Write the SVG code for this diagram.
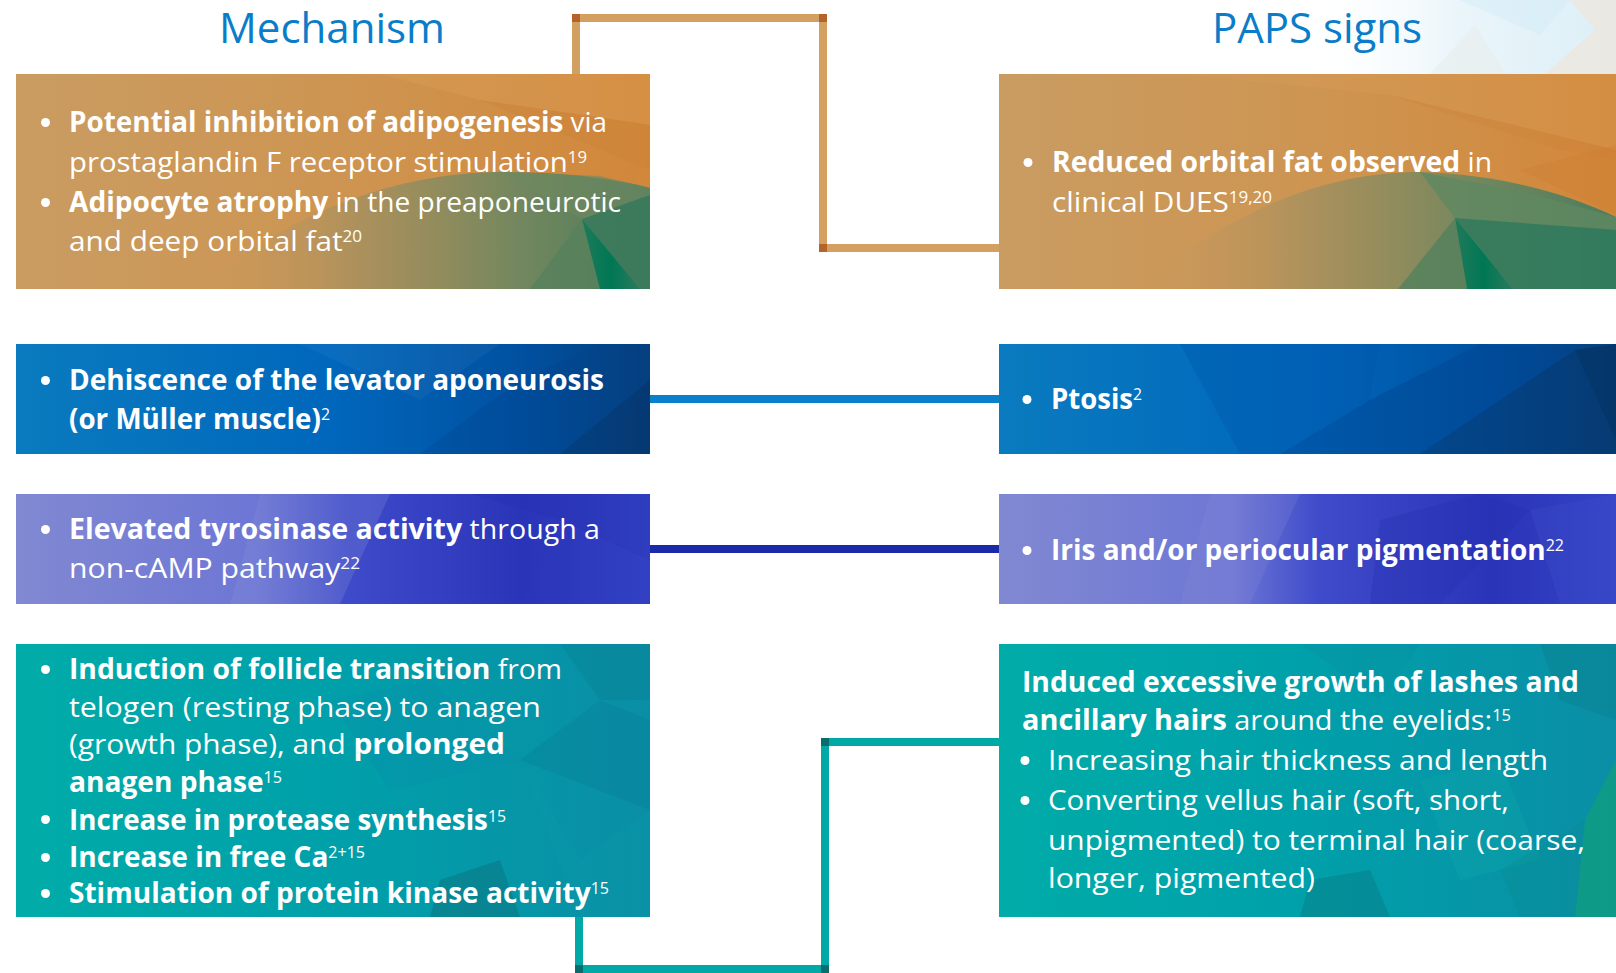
<svg xmlns="http://www.w3.org/2000/svg" width="1616" height="973" viewBox="0 0 1616 973">
<style>
.t{font-family:"Open Sans","Noto Sans",sans-serif;font-size:28px;fill:#fff}
.b{font-weight:700}
.s{font-size:16px;font-weight:400}
.title{font-family:"Open Sans","Noto Sans",sans-serif;font-size:42px;fill:#0a7cc8}
.dot{fill:#fff}
.conn{fill:none;stroke-width:8;stroke-linejoin:miter;stroke-linecap:butt}
</style>
<defs>
<linearGradient id="gOrange" x1="0" y1="0" x2="1" y2="0"><stop offset="0" stop-color="#c99c62"/><stop offset="0.55" stop-color="#ce9450"/><stop offset="1" stop-color="#d2873a"/></linearGradient>
<linearGradient id="gGreen" x1="0" y1="0" x2="1" y2="0"><stop offset="0" stop-color="#c89a60" stop-opacity="0"/><stop offset="0.35" stop-color="#a6905e" stop-opacity="0.85"/><stop offset="0.7" stop-color="#74875e"/><stop offset="1" stop-color="#4b7d5d"/></linearGradient>
<linearGradient id="gDeep" x1="0" y1="0" x2="1" y2="0"><stop offset="0" stop-color="#1f7a5a"/><stop offset="0.5" stop-color="#007753"/><stop offset="1" stop-color="#2d7a5e"/></linearGradient>
<linearGradient id="gBlue" x1="0" y1="0" x2="1" y2="0"><stop offset="0" stop-color="#0a7bbf"/><stop offset="0.5" stop-color="#0067bc"/><stop offset="0.8" stop-color="#0050a0"/><stop offset="1" stop-color="#073f7c"/></linearGradient>
<linearGradient id="gPurple" x1="0" y1="0" x2="1" y2="0"><stop offset="0" stop-color="#8189d2"/><stop offset="0.38" stop-color="#6d76d4"/><stop offset="0.52" stop-color="#3e4bca"/><stop offset="0.8" stop-color="#2a34b8"/><stop offset="1" stop-color="#3444c6"/></linearGradient>
<linearGradient id="gTeal" x1="0" y1="0" x2="1" y2="0"><stop offset="0" stop-color="#00aca8"/><stop offset="0.5" stop-color="#00a0aa"/><stop offset="1" stop-color="#0a8ea6"/></linearGradient>
<linearGradient id="gSky" x1="0" y1="0" x2="1" y2="0"><stop offset="0" stop-color="#ffffff" stop-opacity="0"/><stop offset="0.5" stop-color="#eaf5fa"/><stop offset="1" stop-color="#dcefF7"/></linearGradient>
</defs>

<rect x="0" y="0" width="1616" height="973" fill="#ffffff"/>
<g id="decor">
<polygon points="1300,0 1616,0 1616,74 1300,74" fill="url(#gSky)"/>
<polygon points="1570,0 1616,0 1616,74 1545,74 1595,30" fill="#efe6da" opacity="0.7"/>
<polygon points="1460,0 1570,0 1540,35" fill="#d3ecf7" opacity="0.5"/>
<polygon points="1430,74 1475,25 1505,74" fill="#e8ebe9" opacity="0.5"/>
</g>

<g id="titles">
<text class="title" x="332" y="43" text-anchor="middle">Mechanism</text>
<text class="title" x="1317" y="43" text-anchor="middle">PAPS signs</text>
</g>

<g id="connectors">
<path class="conn" stroke="#d4a062" d="M576,74 V18 H823 V248 H999"/>
<rect x="572" y="14" width="8" height="8" fill="#b4642a"/>
<rect x="819" y="14" width="8" height="8" fill="#b4642a"/>
<rect x="819" y="244" width="8" height="8" fill="#b4642a"/>
<path class="conn" stroke="#0a80c8" d="M650,399 H999"/>
<path class="conn" stroke="#1a2aa8" d="M650,549 H999"/>
<path class="conn" stroke="#00a9a5" d="M579,917 V969 H825 V742 H999"/>
<rect x="575" y="965" width="8" height="8" fill="#0a6d6d"/>
<rect x="821" y="965" width="8" height="8" fill="#0a6d6d"/>
<rect x="821" y="738" width="8" height="8" fill="#0a6d6d"/>
</g>

<g id="mech-fat">
<rect x="16" y="74" width="634" height="215" fill="url(#gOrange)"/>
<polygon points="380,74 650,74 650,125 480,100" fill="#dca058" opacity="0.35"/>
<polygon points="480,100 650,125 650,170" fill="#c97f35" opacity="0.25"/>
<path d="M200,289 C300,200 420,172 500,172 C560,172 612,178 650,188 V289 Z" fill="url(#gGreen)"/>
<polygon points="582,219 650,195 650,289 640,289" fill="#3b7a5c" opacity="0.9"/>
<polygon points="500,172 582,219 650,195 650,188 600,176" fill="#6f8860" opacity="0.6"/>
<polygon points="582,219 530,289 600,289" fill="#56815d" opacity="0.8"/>
<polygon points="582,219 600,289 640,289" fill="url(#gDeep)"/>
<circle class="dot" cx="45.5" cy="122.5" r="4.5"/>
<text class="t" x="69" y="132" textLength="538" lengthAdjust="spacingAndGlyphs"><tspan class="b">Potential inhibition of adipogenesis</tspan> via</text>
<text class="t" x="69" y="172" textLength="518" lengthAdjust="spacingAndGlyphs">prostaglandin F receptor stimulation<tspan class="s" dy="-9">19</tspan></text>
<circle class="dot" cx="45.5" cy="202.5" r="4.5"/>
<text class="t" x="69" y="212" textLength="552" lengthAdjust="spacingAndGlyphs"><tspan class="b">Adipocyte atrophy</tspan> in the preaponeurotic</text>
<text class="t" x="69" y="251" textLength="293" lengthAdjust="spacingAndGlyphs">and deep orbital fat<tspan class="s" dy="-9">20</tspan></text>
</g>

<g id="paps-fat">
<rect x="999" y="74" width="617" height="215" fill="url(#gOrange)"/>
<polygon points="1180,74 1616,74 1616,150 1390,95" fill="#dca058" opacity="0.3"/>
<polygon points="1390,95 1616,150 1616,160 1560,150" fill="#c97f35" opacity="0.2"/>
<polygon points="1520,170 1616,145 1616,215" fill="#cd7f30" opacity="0.35"/>
<path d="M1140,289 C1240,200 1340,172 1420,172 C1500,174 1570,195 1616,217 V289 Z" fill="url(#gGreen)"/>
<polygon points="1420,172 1455,218 1616,230 1616,217 1520,191" fill="#5f8862" opacity="0.8"/>
<polygon points="1455,218 1616,230 1616,289 1513,289" fill="#2f7a5d" opacity="0.85"/>
<polygon points="1455,218 1398,289 1467,289" fill="#56815d" opacity="0.85"/>
<polygon points="1455,218 1467,289 1513,289" fill="url(#gDeep)"/>
<circle class="dot" cx="1028" cy="162.5" r="4.5"/>
<text class="t" x="1052" y="172" textLength="440" lengthAdjust="spacingAndGlyphs"><tspan class="b">Reduced orbital fat observed</tspan> in</text>
<text class="t" x="1052" y="212" textLength="220" lengthAdjust="spacingAndGlyphs">clinical DUES<tspan class="s" dy="-9">19,20</tspan></text>
</g>

<g id="mech-ptosis">
<rect x="16" y="344" width="634" height="110" fill="url(#gBlue)"/>
<polygon points="420,454 520,380 600,344 650,344 650,380 560,454" fill="#003f88" opacity="0.25"/>
<polygon points="560,454 650,380 650,454" fill="#062f60" opacity="0.35"/>
<polygon points="300,344 500,344 420,400" fill="#ffffff" opacity="0.04"/>
<circle class="dot" cx="45.5" cy="380.5" r="4.5"/>
<text class="t b" x="69" y="390" textLength="535" lengthAdjust="spacingAndGlyphs">Dehiscence of the levator aponeurosis</text>
<text class="t b" x="69" y="429" textLength="261" lengthAdjust="spacingAndGlyphs">(or Müller muscle)<tspan class="s" dy="-9">2</tspan></text>
</g>

<g id="paps-ptosis">
<rect x="999" y="344" width="617" height="110" fill="url(#gBlue)"/>
<polygon points="1180,344 1380,344 1370,400 1280,454 1240,454" fill="#0055a8" opacity="0.35"/>
<polygon points="1370,400 1480,344 1575,350 1420,454 1280,454" fill="#004590" opacity="0.45"/>
<polygon points="1420,454 1575,350 1616,440 1616,454" fill="#05366a" opacity="0.5"/>
<polygon points="1575,350 1616,344 1616,440" fill="#03305e" opacity="0.6"/>
<circle class="dot" cx="1027" cy="399.5" r="4.5"/>
<text class="t b" x="1051" y="409" textLength="91" lengthAdjust="spacingAndGlyphs">Ptosis<tspan class="s" dy="-9">2</tspan></text>
</g>

<g id="mech-pigment">
<rect x="16" y="494" width="634" height="110" fill="url(#gPurple)"/>
<polygon points="260,494 390,494 340,604 230,604" fill="#8a92d8" opacity="0.25"/>
<polygon points="470,494 650,494 650,560 560,520" fill="#2630b0" opacity="0.3"/>
<polygon points="560,520 650,560 650,604 520,604" fill="#2a36bc" opacity="0.25"/>
<circle class="dot" cx="45.5" cy="529.5" r="4.5"/>
<text class="t" x="69" y="539" textLength="531" lengthAdjust="spacingAndGlyphs"><tspan class="b">Elevated tyrosinase activity</tspan> through a</text>
<text class="t" x="69" y="578" textLength="291" lengthAdjust="spacingAndGlyphs">non-cAMP pathway<tspan class="s" dy="-9">22</tspan></text>
</g>

<g id="paps-pigment">
<rect x="999" y="494" width="617" height="110" fill="url(#gPurple)"/>
<polygon points="1210,494 1300,494 1250,604 1180,604" fill="#8a92d8" opacity="0.2"/>
<polygon points="1380,520 1480,494 1530,510 1440,604 1370,604" fill="#2430b0" opacity="0.3"/>
<polygon points="1530,510 1616,494 1616,604 1560,604" fill="#3d4ec8" opacity="0.35"/>
<circle class="dot" cx="1027" cy="550.5" r="4.5"/>
<text class="t b" x="1051" y="560" textLength="513" lengthAdjust="spacingAndGlyphs">Iris and/or periocular pigmentation<tspan class="s" dy="-9">22</tspan></text>
</g>

<g id="mech-hair">
<rect x="16" y="644" width="634" height="273" fill="url(#gTeal)"/>
<polygon points="330,700 430,680 520,760 390,790" fill="#0a8ea8" opacity="0.3"/>
<polygon points="520,760 600,700 650,720 650,810" fill="#0a7f98" opacity="0.35"/>
<polygon points="440,880 500,860 520,917 430,917" fill="#0a6f7a" opacity="0.45"/>
<polygon points="560,644 650,644 650,700 600,700" fill="#0a7f90" opacity="0.35"/>
<polygon points="520,760 580,860 650,810 650,917 580,917" fill="#0a9aa8" opacity="0.25"/>
<circle class="dot" cx="45.5" cy="669.5" r="4.5"/>
<text class="t" x="69" y="679" textLength="493" lengthAdjust="spacingAndGlyphs"><tspan class="b">Induction of follicle transition</tspan> from</text>
<text class="t" x="69" y="717" textLength="472" lengthAdjust="spacingAndGlyphs">telogen (resting phase) to anagen</text>
<text class="t" x="69" y="754" textLength="436" lengthAdjust="spacingAndGlyphs">(growth phase), and <tspan class="b">prolonged</tspan></text>
<text class="t b" x="69" y="792" textLength="213" lengthAdjust="spacingAndGlyphs">anagen phase<tspan class="s" dy="-9">15</tspan></text>
<circle class="dot" cx="45.5" cy="819.5" r="4.5"/>
<text class="t b" x="69" y="830" textLength="437" lengthAdjust="spacingAndGlyphs">Increase in protease synthesis<tspan class="s" dy="-8">15</tspan></text>
<circle class="dot" cx="45.5" cy="857.5" r="4.5"/>
<text class="t b" x="69" y="867" textLength="296" lengthAdjust="spacingAndGlyphs">Increase in free Ca<tspan class="s" dy="-9">2+15</tspan></text>
<circle class="dot" cx="45.5" cy="893.5" r="4.5"/>
<text class="t b" x="69" y="903" textLength="540" lengthAdjust="spacingAndGlyphs">Stimulation of protein kinase activity<tspan class="s" dy="-9">15</tspan></text>
</g>

<g id="paps-hair">
<rect x="999" y="644" width="617" height="273" fill="url(#gTeal)"/>
<polygon points="1300,644 1420,644 1380,700" fill="#0a8ea0" opacity="0.35"/>
<polygon points="1540,644 1616,644 1616,720 1560,700" fill="#0a7f8c" opacity="0.4"/>
<polygon points="1420,780 1500,760 1540,860 1460,880" fill="#10a8a8" opacity="0.3"/>
<polygon points="1310,880 1370,870 1390,917 1300,917" fill="#0a6f78" opacity="0.35"/>
<polygon points="1585,820 1616,760 1616,917 1575,917" fill="#10a07a" opacity="0.7"/>
<polygon points="1500,870 1585,820 1575,917 1520,917" fill="#0a8a90" opacity="0.3"/>
<text class="t b" x="1022" y="692" textLength="557" lengthAdjust="spacingAndGlyphs">Induced excessive growth of lashes and</text>
<text class="t" x="1022" y="730" textLength="489" lengthAdjust="spacingAndGlyphs"><tspan class="b">ancillary hairs</tspan> around the eyelids:<tspan class="s" dy="-9">15</tspan></text>
<circle class="dot" cx="1025" cy="760.5" r="4.5"/>
<text class="t" x="1048" y="770" textLength="500" lengthAdjust="spacingAndGlyphs">Increasing hair thickness and length</text>
<circle class="dot" cx="1025" cy="800.5" r="4.5"/>
<text class="t" x="1048" y="810" textLength="461" lengthAdjust="spacingAndGlyphs">Converting vellus hair (soft, short,</text>
<text class="t" x="1048" y="850" textLength="537" lengthAdjust="spacingAndGlyphs">unpigmented) to terminal hair (coarse,</text>
<text class="t" x="1048" y="888" textLength="267" lengthAdjust="spacingAndGlyphs">longer, pigmented)</text>
</g>
</svg>
